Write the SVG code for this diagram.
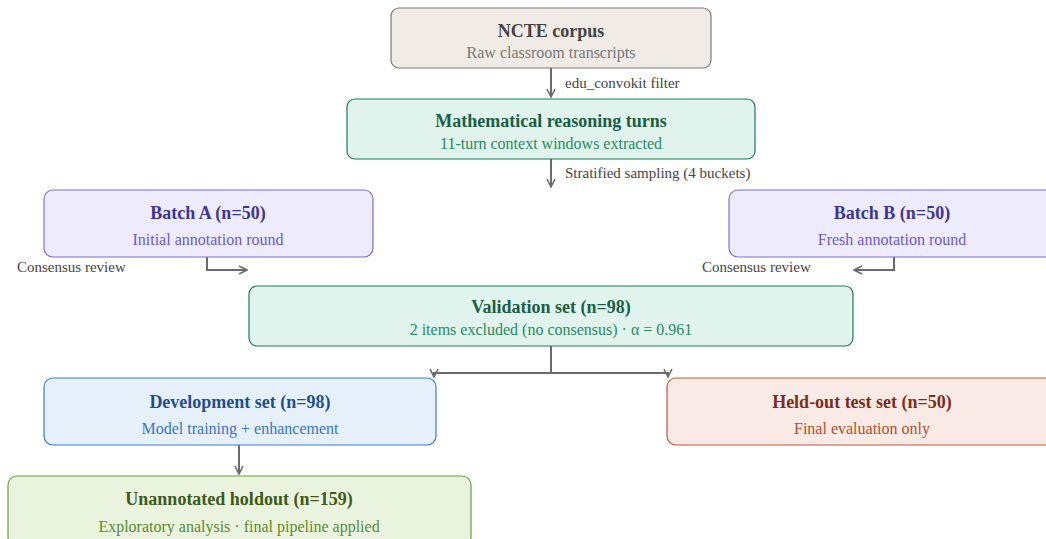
<svg xmlns="http://www.w3.org/2000/svg" width="1046" height="539" viewBox="0 0 1046 539">
<style>
text{font-family:"Liberation Serif","Times New Roman",serif;text-anchor:middle}
.t{font-size:18px;font-weight:bold}
.s{font-size:16px}
.l{font-size:15px;fill:#444;text-anchor:start}
.c{fill:none;stroke:#6b6b6b;stroke-width:2}
</style>
<defs>
<marker id="ah" viewBox="0 0 10 10" refX="9" refY="5" markerWidth="10" markerHeight="10" markerUnits="userSpaceOnUse" orient="auto">
<path d="M1,1 L9,5 L1,9" fill="none" stroke="#6b6b6b" stroke-width="1.6"/>
</marker>
</defs>
<g id="connectors">
<path class="c" d="M551,68 V97" marker-end="url(#ah)"/>
<text class="l" x="565" y="88">edu_convokit filter</text>
<path class="c" d="M551,159 V187" marker-end="url(#ah)"/>
<text class="l" x="565" y="178">Stratified sampling (4 buckets)</text>
<path class="c" d="M207,257 V270 H247" marker-end="url(#ah)"/>
<text class="l" x="17" y="272">Consensus review</text>
<path class="c" d="M894,257 V270 H854" marker-end="url(#ah)"/>
<text class="l" x="702" y="272">Consensus review</text>
<path class="c" d="M551,346 V373 H434 V377" marker-end="url(#ah)"/>
<path class="c" d="M551,373 H668 V377" marker-end="url(#ah)"/>
<path class="c" d="M239,445 V474" marker-end="url(#ah)"/>
</g>
<g id="ncte">
<rect x="391" y="8" width="320" height="60" rx="8" fill="#f0ece5" stroke="#7a7a7a" stroke-width="1.2"/>
<text class="t" x="551" y="37" fill="#444">NCTE corpus</text>
<text class="s" x="551" y="58" fill="#777">Raw classroom transcripts</text>
</g>
<g id="math">
<rect x="347" y="99" width="408" height="60" rx="8" fill="#e0f3ec" stroke="#1f7a56" stroke-width="1.2"/>
<text class="t" x="551" y="127" fill="#1b5e45">Mathematical reasoning turns</text>
<text class="s" x="551" y="149" fill="#2a8a62">11-turn context windows extracted</text>
</g>
<g id="batchA">
<rect x="44" y="190" width="329" height="67" rx="9" fill="#eeebfc" stroke="#7b6fdc" stroke-width="1.2"/>
<text class="t" x="208" y="219" fill="#3d3592">Batch A (n=50)</text>
<text class="s" x="208" y="245" fill="#6a5bd0">Initial annotation round</text>
</g>
<g id="batchB">
<rect x="729" y="190" width="326" height="67" rx="9" fill="#eeebfc" stroke="#7b6fdc" stroke-width="1.2"/>
<text class="t" x="892" y="219" fill="#3d3592">Batch B (n=50)</text>
<text class="s" x="892" y="245" fill="#6a5bd0">Fresh annotation round</text>
</g>
<g id="validation">
<rect x="249" y="286" width="604" height="60" rx="8" fill="#e0f3ec" stroke="#1f7a56" stroke-width="1.2"/>
<text class="t" x="551" y="313" fill="#1b5e45">Validation set (n=98)</text>
<text class="s" x="551" y="335" fill="#2a8a62">2 items excluded (no consensus) · α = 0.961</text>
</g>
<g id="development">
<rect x="44" y="378" width="392" height="67" rx="9" fill="#e5f0fb" stroke="#3d7bcc" stroke-width="1.2"/>
<text class="t" x="240" y="408" fill="#1f4e8c">Development set (n=98)</text>
<text class="s" x="240" y="434" fill="#3a76c4">Model training + enhancement</text>
</g>
<g id="heldout">
<rect x="667" y="378" width="390" height="67" rx="9" fill="#faeae5" stroke="#b85a3c" stroke-width="1.2"/>
<text class="t" x="862" y="408" fill="#7a2e1a">Held-out test set (n=50)</text>
<text class="s" x="862" y="434" fill="#b0502e">Final evaluation only</text>
</g>
<g id="unannotated">
<rect x="8" y="476" width="463" height="70" rx="9" fill="#eaf3dd" stroke="#6b9c40" stroke-width="1.2"/>
<text class="t" x="239" y="505" fill="#3d5a1a">Unannotated holdout (n=159)</text>
<text class="s" x="239" y="532" fill="#5a8a32">Exploratory analysis · final pipeline applied</text>
</g>
</svg>
